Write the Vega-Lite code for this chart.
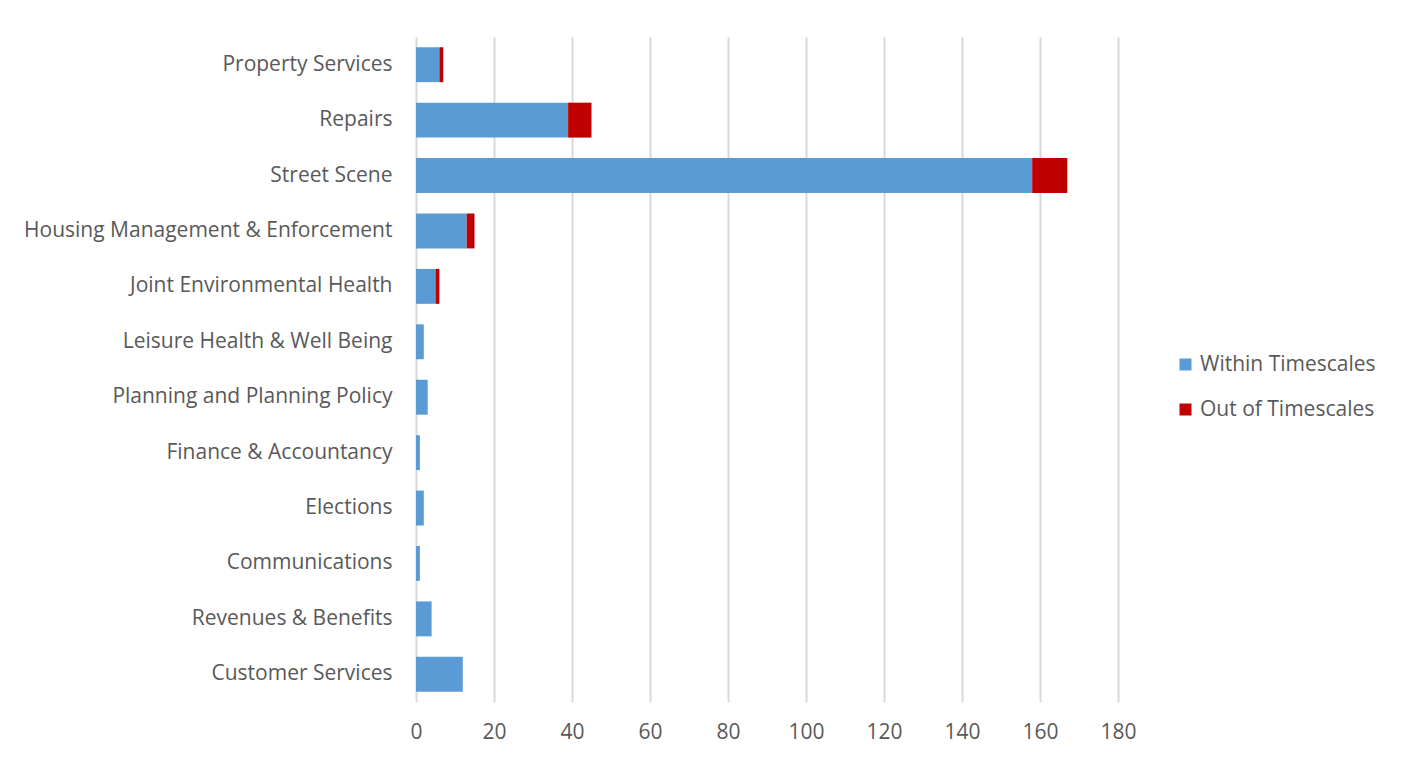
{
  "$schema": "https://vega.github.io/schema/vega-lite/v6.json",
  "width": 702,
  "height": 665,
  "autosize": {"type": "none"},
  "padding": {"left": 416, "top": 37, "right": 287, "bottom": 56},
  "background": "white",
  "config": {
    "view": {"stroke": null},
    "font": "Open Sans",
    "axis": {"labelFont": "Open Sans", "labelColor": "#595959", "labelFontSize": 21},
    "legend": {"labelFont": "Open Sans", "labelColor": "#595959", "labelFontSize": 21}
  },
  "data": {
    "values": [
      {"service": "Property Services", "status": "Within Timescales", "ord": 1, "count": 6},
      {"service": "Property Services", "status": "Out of Timescales", "ord": 2, "count": 1},
      {"service": "Repairs", "status": "Within Timescales", "ord": 1, "count": 39},
      {"service": "Repairs", "status": "Out of Timescales", "ord": 2, "count": 6},
      {"service": "Street Scene", "status": "Within Timescales", "ord": 1, "count": 158},
      {"service": "Street Scene", "status": "Out of Timescales", "ord": 2, "count": 9},
      {"service": "Housing Management & Enforcement", "status": "Within Timescales", "ord": 1, "count": 13},
      {"service": "Housing Management & Enforcement", "status": "Out of Timescales", "ord": 2, "count": 2},
      {"service": "Joint Environmental Health", "status": "Within Timescales", "ord": 1, "count": 5},
      {"service": "Joint Environmental Health", "status": "Out of Timescales", "ord": 2, "count": 1},
      {"service": "Leisure Health & Well Being", "status": "Within Timescales", "ord": 1, "count": 2},
      {"service": "Planning and Planning Policy", "status": "Within Timescales", "ord": 1, "count": 3},
      {"service": "Finance & Accountancy", "status": "Within Timescales", "ord": 1, "count": 1},
      {"service": "Elections", "status": "Within Timescales", "ord": 1, "count": 2},
      {"service": "Communications", "status": "Within Timescales", "ord": 1, "count": 1},
      {"service": "Revenues & Benefits", "status": "Within Timescales", "ord": 1, "count": 4},
      {"service": "Customer Services", "status": "Within Timescales", "ord": 1, "count": 12}
    ]
  },
  "mark": {"type": "bar"},
  "encoding": {
    "y": {
      "field": "service",
      "type": "nominal",
      "sort": null,
      "scale": {"paddingInner": 0.37, "paddingOuter": 0.185},
      "axis": {"title": null, "ticks": false, "domain": false, "grid": false, "labelPadding": 24, "labelLimit": 500}
    },
    "x": {
      "field": "count",
      "type": "quantitative",
      "stack": "zero",
      "scale": {"domain": [0, 180], "nice": false},
      "axis": {"title": null, "values": [0, 20, 40, 60, 80, 100, 120, 140, 160, 180], "ticks": false, "domain": false, "grid": true, "gridColor": "#d9d9d9", "gridWidth": 2, "labelPadding": 19, "labelFlush": false}
    },
    "order": {"field": "ord", "type": "quantitative"},
    "color": {
      "field": "status",
      "type": "nominal",
      "scale": {"domain": ["Within Timescales", "Out of Timescales"], "range": ["#5b9bd5", "#c00000"]},
      "legend": {"title": null, "orient": "none", "legendX": 759, "legendY": 317, "symbolType": "square", "symbolSize": 144, "symbolStrokeWidth": 0, "symbolOpacity": 1, "rowPadding": 23, "labelOffset": 4, "labelLimit": 300}
    }
  }
}
